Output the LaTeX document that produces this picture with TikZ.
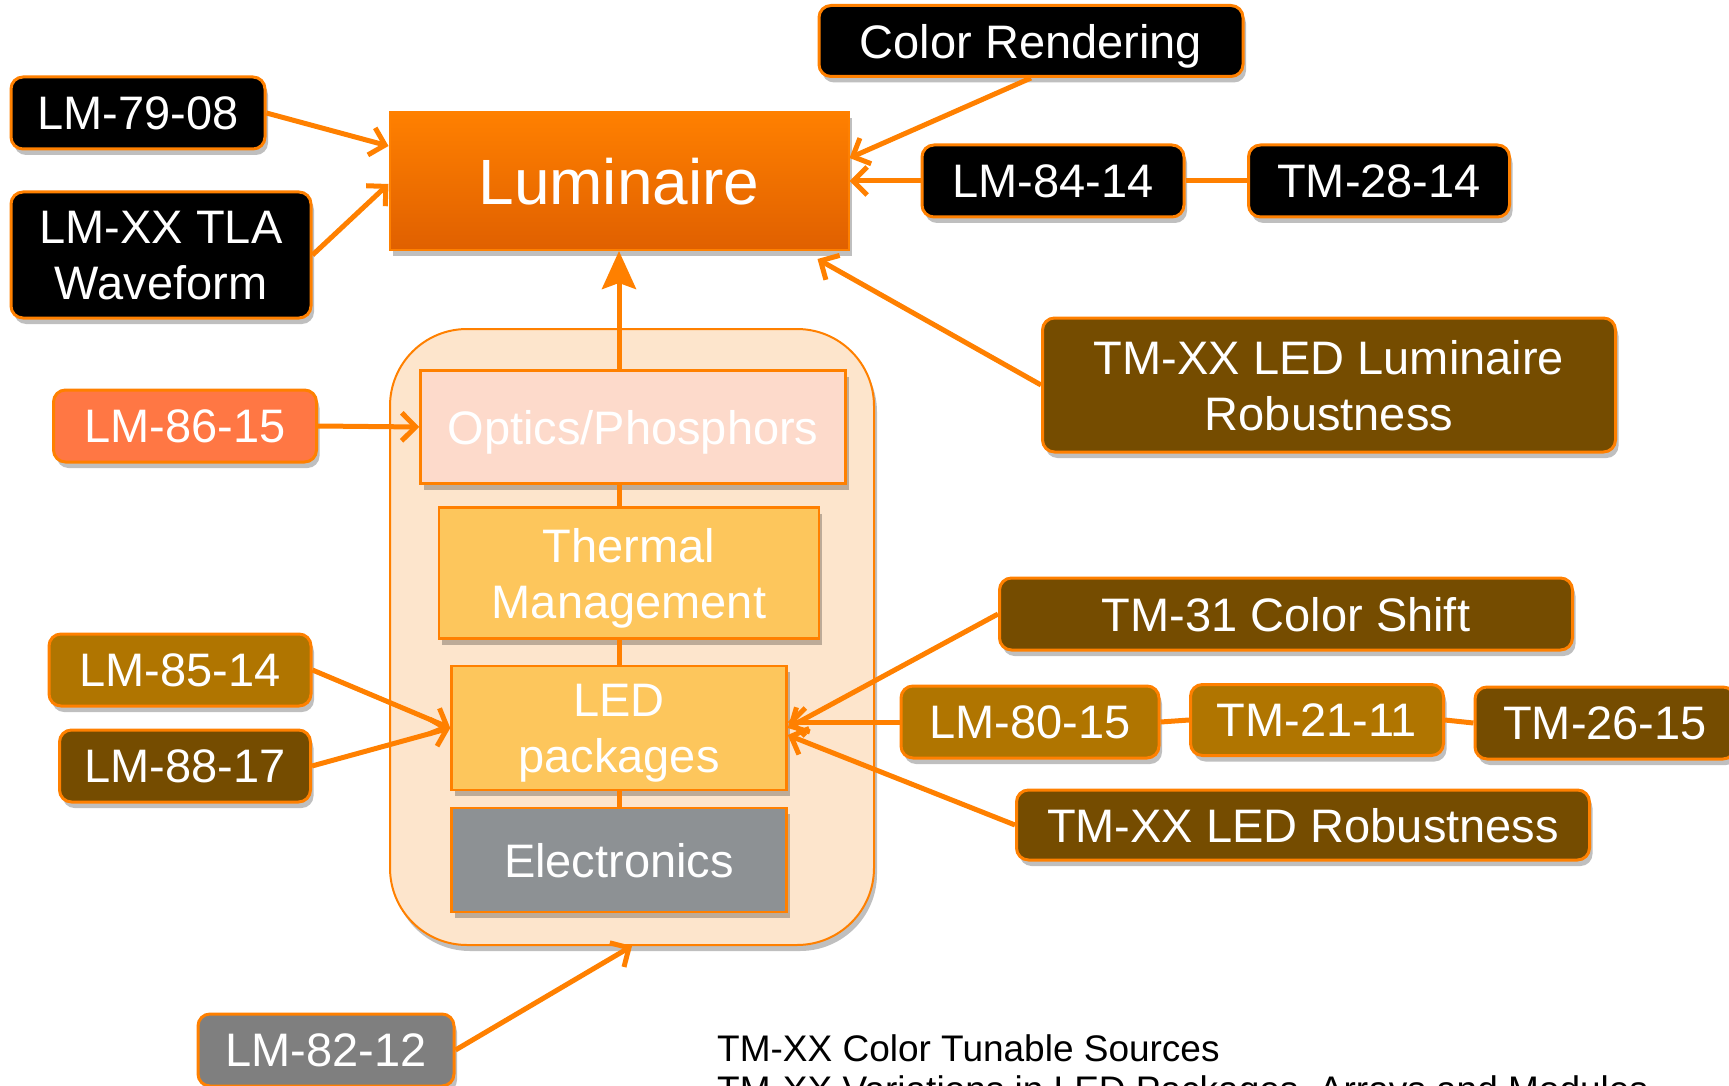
\documentclass[tikz,border=0pt]{standalone}
\usepackage{fontspec}
\setmainfont{Liberation Sans}
\usetikzlibrary{arrows.meta,shadows}
\definecolor{org}{HTML}{FF8000}
\definecolor{orgdark}{HTML}{E06000}
\definecolor{brn}{HTML}{754C00}
\definecolor{gld}{HTML}{B07500}
\definecolor{salmon}{HTML}{FF7744}
\definecolor{pinkish}{HTML}{FDDACB}
\definecolor{yel}{HTML}{FDC65C}
\definecolor{gryE}{HTML}{8D9194}
\definecolor{gryL}{HTML}{7F7F7F}
\definecolor{cream}{HTML}{FDE5CC}
\tikzset{
  shad/.style={drop shadow={opacity=0.25, shadow xshift=3pt, shadow yshift=-6pt, fill=black}},
  lbl/.style={draw=org, line width=3pt, rounded corners=12pt, text=white, text depth=0pt,
    font=\fontsize{47}{56}\selectfont, align=center, inner sep=0pt, shad},
  blk/.style={lbl, fill=black},
  brnbox/.style={lbl, fill=brn},
  gldbox/.style={lbl, fill=gld},
  part/.style={draw=org, line width=2.5pt, text=white, text depth=0pt, align=center, inner sep=0pt,
    font=\fontsize{47}{56}\selectfont, shad},
  conn/.style={draw=org, line width=5pt},
  arr/.style={conn, -{Straight Barb[length=14pt,width=28pt]}},
}
\begin{document}
\begin{tikzpicture}[x=1pt,y=-1pt]
\useasboundingbox (0,0) rectangle (1729,1086);
% container
\node[draw=org, line width=2pt, fill=cream, rounded corners=77pt, minimum width=484pt, minimum height=616pt, shad] (cont) at (632,637) {};
% main blocks
\node[draw=org, line width=2pt, top color=org, bottom color=orgdark, text=white, text depth=0pt,
  minimum width=459pt, minimum height=138pt, font=\fontsize{64}{70}\selectfont, shad] (lum) at (619,181) {Luminaire};
\node[part, fill=pinkish, minimum width=425pt, minimum height=113pt] (opt) at (633,427) {Optics/Phosphors};
\node[part, fill=yel, minimum width=380pt, minimum height=131pt] (th) at (629,573) {Thermal\\Management};
\node[part, fill=yel, minimum width=335pt, minimum height=124pt] (led) at (619,728) {LED\\packages};
\node[part, fill=gryE, minimum width=335pt, minimum height=104pt] (el) at (619,860) {Electronics};
% labels
\node[blk, minimum width=424pt, minimum height=71pt] (cr) at (1031,41) {Color Rendering};
\node[blk, minimum width=254pt, minimum height=72pt] (l79) at (138,113) {LM-79-08};
\node[blk, minimum width=300pt, minimum height=126pt] (tla) at (161,255) {LM-XX TLA\\Waveform};
\node[blk, minimum width=262pt, minimum height=72pt] (l84) at (1053,181) {LM-84-14};
\node[blk, minimum width=261pt, minimum height=72pt] (t28) at (1379,181) {TM-28-14};
\node[brnbox, minimum width=573pt, minimum height=134pt] (tlr) at (1329,385) {TM-XX LED Luminaire\\Robustness};
\node[lbl, fill=salmon, minimum width=263pt, minimum height=72pt] (l86) at (185,426) {LM-86-15};
\node[gldbox, minimum width=262pt, minimum height=72pt] (l85) at (180,670) {LM-85-14};
\node[brnbox, minimum width=251pt, minimum height=72pt] (l88) at (185,766) {LM-88-17};
\node[brnbox, minimum width=573pt, minimum height=72pt] (t31) at (1286,614) {TM-31 Color Shift};
\node[gldbox, minimum width=258pt, minimum height=72pt] (l80) at (1030,722) {LM-80-15};
\node[gldbox, minimum width=253pt, minimum height=71pt] (t21) at (1317,720) {TM-21-11};
\node[brnbox, minimum width=260pt, minimum height=72pt] (t26) at (1605,723) {TM-26-15};
\node[brnbox, minimum width=573pt, minimum height=70pt] (tlr2) at (1303,825) {TM-XX LED Robustness};
\node[lbl, fill=gryL, minimum width=256pt, minimum height=72pt] (l82) at (326,1050) {LM-82-12};
% bottom text
\node[anchor=base west, inner sep=0pt, font=\fontsize{37}{41}\selectfont] (txa) at (717,1061) {TM-XX Color Tunable Sources};
\node[anchor=base west, inner sep=0pt, font=\fontsize{37}{41}\selectfont] (txb) at (717,1102) {TM-XX Variations in LED Packages, Arrays and Modules};
% vertical stack connectors
\draw[conn, -{Stealth[length=38pt,width=34pt,inset=6pt]}] (opt.north -| lum.south) -- (lum.south);
\draw[conn] (opt.south -| lum.south) -- (th.north -| lum.south);
\draw[conn] (th.south -| lum.south) -- (led.north -| lum.south);
\draw[conn] (led.south -| lum.south) -- (el.north -| lum.south);
% arrows to luminaire
\draw[arr] (l79.east) -- ([yshift=35pt]lum.west);
\draw[arr] (tla.east) -- ([yshift=-3pt]lum.west);
\draw[arr] (cr.south) -- ([yshift=23pt]lum.east);
\draw[arr] (l84.west) -- (lum.east);
\draw[conn] (l84.east) -- (t28.west);
\draw[arr] (tlr.west) -- ([xshift=-32pt,yshift=-8pt]lum.south east);
% arrows to parts
\draw[arr] (l86.east) -- (opt.west);
\draw[arr] (l85.east) -- (led.west);
\draw[arr] (l88.east) -- (led.west);
\draw[arr] (t31.west) -- (led.east);
\draw[arr] (l80.west) -- (l80.west -| led.east);
\draw[conn] (l80.east) -- (t21.west);
\draw[conn] (t21.east) -- (t26.west);
\draw[arr] (tlr2.west) -- ([yshift=-7pt]led.east);
\draw[arr] (l82.east) -- (cont.south);
\end{tikzpicture}
\end{document}
